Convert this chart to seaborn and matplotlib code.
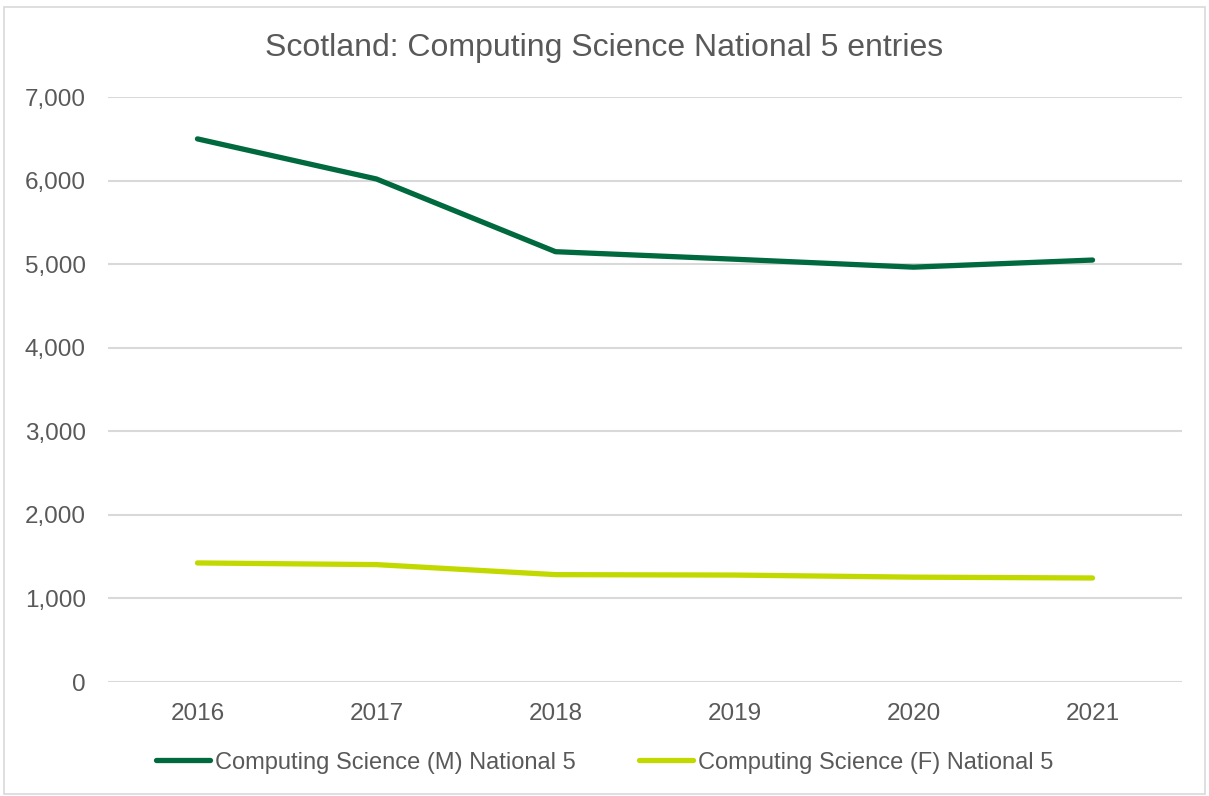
import matplotlib
matplotlib.use("Agg")
import matplotlib.pyplot as plt
import matplotlib.ticker as mticker
import seaborn as sns
import pandas as pd

years = ["2016", "2017", "2018", "2019", "2020", "2021"]
male_entries = [6500, 6020, 5150, 5060, 4965, 5050]
female_entries = [1425, 1405, 1285, 1280, 1255, 1245]
series_names = ["Computing Science (M) National 5", "Computing Science (F) National 5"]
series_colors = ["#00693E", "#C2D900"]
title_text = "Scotland: Computing Science National 5 entries"

df = pd.DataFrame({
    "year": years * 2,
    "pos": list(range(len(years))) * 2,
    "entries": male_entries + female_entries,
    "series": [series_names[0]] * len(years) + [series_names[1]] * len(years),
})

sns.set_style("white")
plt.rcParams["font.family"] = ["Liberation Sans", "DejaVu Sans"]
text_color = "#595959"
grid_color = "#D9D9D9"

fig = plt.figure(figsize=(12.09, 7.96), dpi=100)
ax = fig.add_axes([0.0893, 0.1432, 0.9777 - 0.0893, 0.878 - 0.1432])

sns.lineplot(data=df, x="pos", y="entries", hue="series", palette=series_colors,
             hue_order=series_names, linewidth=3.8, ax=ax, legend=False,
             solid_capstyle="round")

ax.set_xlim(-0.5, len(years) - 0.5)
ax.set_ylim(0, 7000)
ax.set_yticks(range(0, 7001, 1000))
ax.yaxis.set_major_formatter(mticker.FuncFormatter(lambda v, p: f"{int(v):,}"))
ax.set_xticks(range(len(years)))
ax.set_xticklabels(years)
ax.set_xlabel("")
ax.set_ylabel("")
ax.grid(axis="y", color=grid_color, linewidth=1.5)
ax.set_axisbelow(True)
for s in ["top", "right", "left", "bottom"]:
    ax.spines[s].set_visible(False)
ax.tick_params(axis="both", length=0, labelsize=17.5, colors=text_color)
ax.tick_params(axis="x", pad=15)
ax.tick_params(axis="y", pad=16)

fig.text(0.5, 0.940, title_text, ha="center", va="center", fontsize=23, color=text_color)

handles = [plt.Line2D([], [], color=c, linewidth=3.8, solid_capstyle="round") for c in series_colors]
leg = fig.legend(handles, series_names, loc="center", bbox_to_anchor=(0.5, 0.042), ncol=2,
                 frameon=False, fontsize=17, handlelength=2.3, handletextpad=0.2,
                 columnspacing=2.7, labelcolor=text_color)

# outer chart border
fig.patches.append(plt.Rectangle((0.003, 0.002), 0.994, 0.989, transform=fig.transFigure,
                                 fill=False, edgecolor=grid_color, linewidth=1.2))

fig.savefig("out.png", dpi=100)
